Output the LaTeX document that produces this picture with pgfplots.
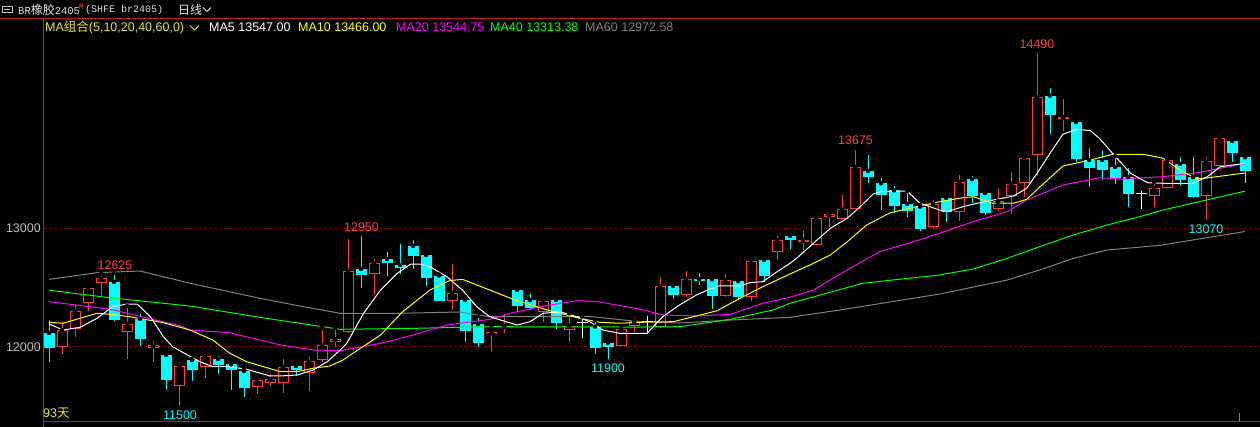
\documentclass[border=0pt]{standalone}
\usepackage{pgfplots}
\pgfplotsset{compat=1.18}
\usepackage{pgfplotstable}
\usepackage{fontspec}
\setmainfont{Liberation Sans}
\newfontfamily\cjk{Noto Sans CJK SC}
\newfontfamily\mono{Liberation Mono}
\definecolor{candlered}{RGB}{255,60,60}
\definecolor{candlecyan}{RGB}{0,255,255}
\definecolor{maw}{RGB}{255,255,255}
\definecolor{maten}{RGB}{255,255,0}
\definecolor{matwenty}{RGB}{255,0,255}
\definecolor{maforty}{RGB}{0,255,0}
\definecolor{masixty}{RGB}{128,128,128}
\definecolor{gridred}{RGB}{130,0,0}
\definecolor{framered}{RGB}{190,30,30}
\definecolor{hdr}{RGB}{225,225,225}
\definecolor{axgray}{RGB}{190,190,190}
\definecolor{tityellow}{RGB}{230,230,40}

% i open high low close
\pgfplotstableread{
i o h l c
1 11997 12233 11944 12143
2 12149 12379 12087 12303
3 12368 12528 12306 12495
4 12537 12621 12432 12579
6 12124 12345 11901 12194
8 11989 12067 11876 12014
10 11674 11882 11500 11840
12 11834 11958 11741 11922
16 11665 11730 11607 11719
17 11699 11789 11671 11728
18 11699 11916 11615 11829
20 11778 11933 11632 11880
21 11888 12163 11874 12014
22 12040 12160 11997 12067
23 12129 12927 12118 12640
25 12612 12758 12438 12705
31 12390 12716 12314 12455
34 12107 12160 11969 12126
35 12166 12295 12120 12177
38 12297 12419 12213 12385
40 12146 12284 12045 12177
44 12011 12177 12008 12149
45 12181 12261 12129 12217
47 12171 12607 12164 12514
49 12441 12657 12419 12570
52 12432 12634 12417 12562
54 12419 12741 12390 12724
56 12798 12952 12735 12901
58 12887 13000 12820 12901
59 12862 13090 12860 13084
60 13093 13146 13013 13118
61 13081 13300 13081 13160
62 13163 13675 13160 13514
68 13007 13253 12995 13205
70 13140 13466 13062 13388
73 13165 13348 13143 13230
74 13272 13491 13123 13371
75 13379 13600 13266 13592
76 13615 14490 13443 14106
78 13923 14106 13820 13938
85 13275 13390 13182 13337
86 13340 13598 13340 13573
89 13275 13620 13070 13564
90 13527 13794 13527 13758
}\updata

\pgfplotstableread{
i o h l c
0 12118 12242 11876 11994
5 12548 12625 12219 12227
7 12236 12295 12011 12070
9 11933 11960 11638 11722
11 11890 11899 11716 11806
13 11899 11941 11772 11848
14 11854 11890 11638 11806
15 11798 11812 11581 11657
19 11840 11857 11756 11806
24 12657 12950 12500 12609
26 12741 12817 12601 12710
27 12691 12885 12612 12668
28 12851 12918 12660 12769
29 12775 12800 12514 12584
30 12601 12610 12385 12390
32 12396 12421 12042 12137
33 12194 12261 11997 12036
36 12480 12497 12297 12348
37 12396 12472 12309 12331
39 12396 12400 12154 12200
42 12171 12227 11941 11994
43 12034 12067 11900 12000
48 12514 12531 12404 12438
50 12570 12640 12522 12559
51 12570 12584 12320 12432
53 12556 12581 12404 12419
55 12733 12741 12545 12601
57 12935 12963 12826 12901
63 13483 13634 13384 13435
64 13379 13441 13157 13283
65 13320 13373 13126 13190
66 13205 13314 13098 13148
67 13182 13196 12977 12997
69 13255 13281 13053 13137
71 13415 13458 13211 13275
72 13297 13323 13115 13131
77 14117 14199 13797 13957
79 13896 13900 13556 13586
80 13575 13693 13350 13511
81 13575 13674 13407 13491
82 13516 13609 13373 13421
83 13432 13525 13179 13289
87 13542 13618 13362 13407
88 13430 13620 13258 13264
91 13735 13769 13559 13637
92 13598 13628 13384 13485
}\downdata

\pgfplotstableread{
i o h l c
41 12205 12255 12073 12205
46 12217 12278 12129 12217
84 13289 13331 13163 13289
}\dojidata

\newcommand{\lf}{\fontsize{12.5}{14}\selectfont}

\begin{document}
\begin{tikzpicture}
\useasboundingbox (0pt,0pt) rectangle (1260pt,427pt);
\fill[black] (0pt,0pt) rectangle (1260pt,427pt);
\begin{scope}[x=1pt,y=-1pt,shift={(0pt,427pt)}]
  \draw[gridred, line width=1pt, dash pattern=on 3pt off 2pt] (44,228.3) -- (1260,228.3);
  \draw[gridred, line width=1pt, dash pattern=on 3pt off 2pt] (44,347) -- (1260,347);
\end{scope}
\begin{axis}[at={(0pt,0pt)}, anchor=south west,
  width=1260pt, height=427pt, scale only axis, hide axis,
  xmin=-3.76923, xmax=93.15385, ymin=11326.0, ymax=14923.4,
  clip=true]
% up candles: wick, red outer body, black inner
\addplot[only marks, mark=none, forget plot,
  error bars/.cd, y dir=minus, y explicit, error mark=none,
  error bar style={draw=candlered, line width=1pt, solid}]
  table[x=i, y=h, y error minus expr={\thisrow{h}-\thisrow{l}}] {\updata};
\addplot[only marks, mark=none, forget plot,
  error bars/.cd, y dir=minus, y explicit, error mark=none,
  error bar style={draw=candlered, line width=11pt, solid}]
  table[x=i, y=c, y error minus expr={max(\thisrow{c}-\thisrow{o},8.4)}] {\updata};
\addplot[only marks, mark=none, forget plot,
  error bars/.cd, y dir=minus, y explicit, error mark=none,
  error bar style={draw=black, line width=9pt, solid}]
  table[x=i, y expr={\thisrow{c}-8.4}, y error minus expr={max(\thisrow{c}-\thisrow{o}-16.8,0)}] {\updata};
% down candles
\addplot[only marks, mark=none, forget plot,
  error bars/.cd, y dir=minus, y explicit, error mark=none,
  error bar style={draw=candlecyan, line width=1pt, solid}]
  table[x=i, y=h, y error minus expr={\thisrow{h}-\thisrow{l}}] {\downdata};
\addplot[only marks, mark=none, forget plot,
  error bars/.cd, y dir=minus, y explicit, error mark=none,
  error bar style={draw=candlecyan, line width=11pt, solid}]
  table[x=i, y=o, y error minus expr={max(\thisrow{o}-\thisrow{c},8.4)}] {\downdata};
% doji
\addplot[only marks, mark=none, forget plot,
  error bars/.cd, y dir=minus, y explicit, error mark=none,
  error bar style={draw=white, line width=1pt, solid}]
  table[x=i, y=h, y error minus expr={\thisrow{h}-\thisrow{l}}] {\dojidata};
\addplot[only marks, mark=-, mark size=5.5pt, forget plot,
  mark options={draw=white, line width=1pt}]
  table[x=i, y=o] {\dojidata};

% MA60
\addplot[masixty, line width=1pt, mark=none] coordinates {
(0,12570) (3.7,12626) (7,12640) (10.85,12537) (16.23,12410) (19.3,12345)
(22.38,12284) (27,12284) (31.6,12295) (33.9,12255) (41.6,12257) (45.46,12213)
(48.5,12202) (52.4,12227) (57,12250) (60.85,12312) (68.5,12446) (73.7,12564)
(76.2,12649) (78.8,12747) (81.4,12817) (85.5,12857) (92,12973)};
% MA40
\addplot[maforty, line width=1pt, mark=none] coordinates {
(0,12478) (4.7,12415) (10.85,12345) (16.2,12250) (22.4,12149) (28.5,12158)
(33.9,12171) (45.5,12168) (48.5,12171) (52.4,12233) (55.7,12312) (57,12368)
(62.6,12537) (68.5,12607) (71.1,12657) (73.7,12747) (76.2,12845) (78.8,12944)
(81.4,13028) (83.9,13098) (85.7,13154) (92,13313)};
% MA20
\addplot[matwenty, line width=1pt, mark=none] coordinates {
(0,12382) (4.7,12318) (10.08,12179) (10.85,12143) (13.9,12120) (17.8,12017)
(20.3,11975) (22.4,11969) (25.5,12031) (28,12101) (30.6,12185) (33.9,12233)
(35.7,12289) (37.8,12340) (40.6,12390) (42.2,12382) (45.5,12318) (47.2,12270)
(49.8,12261) (52.4,12275) (54.9,12368) (57,12419) (58.8,12480) (61.4,12649)
(63.9,12803) (66.5,12887) (68.5,12958) (71.1,13056) (73.7,13140) (75.2,13238)
(78,13365) (80.8,13426) (82.6,13415) (85.7,13435) (88.3,13468) (92,13545)};
% MA10
\addplot[maten, line width=1pt, mark=none] coordinates {
(0,12208) (1.08,12200) (3.7,12284) (4.7,12275) (6.2,12255) (8.8,12205)
(10.85,12143) (12.6,12059) (13.9,11947) (15.2,11876) (16.5,11834) (17.8,11792)
(19.1,11792) (20.3,11821) (21.6,11840) (22.6,11890) (25.5,12101) (27.2,12297)
(29.3,12480) (30.8,12559) (31.8,12570) (33.9,12480) (35.7,12402) (38.3,12312)
(40.8,12242) (42.4,12208) (43.9,12200) (46.2,12211) (48,12213) (49.8,12261)
(51.4,12306) (52.9,12396) (54.9,12508) (57,12615) (58.8,12705) (60.1,12775)
(61.4,12887) (62.9,13028) (64.7,13131) (66.5,13177) (68.5,13224) (70.3,13258)
(71.1,13266) (72.6,13211) (74.2,13211) (75.2,13244) (76.8,13407) (78,13525)
(80.1,13575) (81.8,13623) (84.2,13623) (85.7,13590) (87,13491) (88.3,13415)
(89.5,13430) (92,13466)};
% MA5
\addplot[maw, line width=1pt, mark=none] coordinates {
(0,12194) (1.08,12143) (2.4,12166) (3.7,12242) (4.9,12340) (6,12362) (6.8,12360)
(7.8,12255) (8.8,12087) (9.5,12003) (10.2,11960) (11.6,11876) (12.6,11834)
(13.9,11834) (15.2,11812) (17,11756) (17.8,11756) (19.1,11764) (20.3,11806)
(21.4,11876) (22.4,11975) (22.9,12031) (24.2,12284) (25.5,12480) (26.8,12621)
(27.8,12697) (28.5,12699) (29.3,12677) (30.6,12592) (31.8,12480) (32.9,12340)
(33.9,12255) (36,12185) (37,12213) (38,12284) (39.3,12297) (40.6,12255)
(41.6,12213) (42.6,12143) (43.9,12115) (46,12115) (47.2,12255) (48.5,12354)
(49.8,12438) (50.8,12486) (51.6,12516) (53.2,12514) (53.9,12542) (54.9,12550)
(56,12634) (57,12705) (57.5,12747) (58.8,12874) (60.1,13000) (61.4,13084)
(62.4,13182) (63.4,13289) (63.9,13308) (66,13314) (67,13211) (68.5,13154)
(69.1,13140) (70.3,13182) (71.6,13216) (72.9,13244) (74.2,13272) (75.2,13337)
(76,13463) (77,13632) (78,13794) (79.1,13834) (80.1,13822) (80.8,13758)
(81.8,13632) (83.2,13463) (84.5,13384) (85.7,13379) (88,13379) (89.1,13435)
(90.1,13519) (92,13547)};
\end{axis}

\begin{scope}[x=1pt,y=-1pt,shift={(0pt,427pt)}]
  % frame lines
  \draw[framered, line width=1pt] (0,18.5) -- (1260,18.5);
  \draw[framered, line width=1pt] (43.5,18.5) -- (43.5,427);
  \draw[framered, line width=1pt] (43.5,421.7) -- (1260,421.7);
  \draw[masixty, line width=1pt] (1239.5,413) -- (1239.5,421);
  % header
  \draw[axgray, line width=0.8pt] (2,6) rectangle (12,12);
  \draw[axgray, line width=0.8pt] (4,9) -- (10,9);
  \node[anchor=west, inner sep=0, text=hdr] at (18,9.5)
    {\fontsize{10.5}{12}\selectfont\mono BR{\fontsize{12}{12}\selectfont\cjk 橡胶}2405};
  \node[anchor=west, inner sep=0, text=candlered] at (79,6.5)
    {\fontsize{8}{8}\selectfont\mono M};
  \node[anchor=west, inner sep=0, text=hdr] at (85,9.5)
    {\fontsize{10}{12}\selectfont\mono (SHFE br2405)};
  \node[anchor=west, inner sep=0, text=hdr] at (178,9.5)
    {\fontsize{12}{12}\selectfont\cjk 日线};
  \draw[hdr, line width=1pt] (203,7.5) -- (207,11.5) -- (211,7.5);
  % MA row
  \node[anchor=west, inner sep=0, text=tityellow] at (45,27.5)
    {\lf MA{\cjk 组合}(5,10,20,40,60,0)};
  \draw[tityellow, line width=1pt] (190,25.5) -- (194.5,30) -- (199,25.5);
  \node[anchor=west, inner sep=0, text=white] at (209,27.5) {\lf MA5 13547.00};
  \node[anchor=west, inner sep=0, text=maten] at (298,27.5) {\lf MA10 13466.00};
  \node[anchor=west, inner sep=0, text=matwenty] at (396,27.5) {\lf MA20 13544.75};
  \node[anchor=west, inner sep=0, text=maforty] at (490,27.5) {\lf MA40 13313.38};
  \node[anchor=west, inner sep=0, text=masixty] at (585,27.5) {\lf MA60 12972.58};
  % axis labels
  \node[anchor=east, inner sep=0, text=axgray] at (41,228.3) {\lf 13000};
  \node[anchor=east, inner sep=0, text=axgray] at (41,347) {\lf 12000};
  \node[anchor=west, inner sep=0, text=tityellow] at (43,413) {\lf 93{\cjk 天}};
  % high / low labels
  \node[inner sep=0, text=candlered] at (115,265) {\lf 12625};
  \node[inner sep=0, text=candlered] at (361.5,227) {\lf 12950};
  \node[inner sep=0, text=candlecyan] at (180,415) {\lf 11500};
  \node[inner sep=0, text=candlecyan] at (608,368) {\lf 11900};
  \node[inner sep=0, text=candlered] at (855.5,140.5) {\lf 13675};
  \node[inner sep=0, text=candlered] at (1037,44) {\lf 14490};
  \node[inner sep=0, text=candlecyan] at (1206,229) {\lf 13070};
\end{scope}
\end{tikzpicture}
\end{document}
